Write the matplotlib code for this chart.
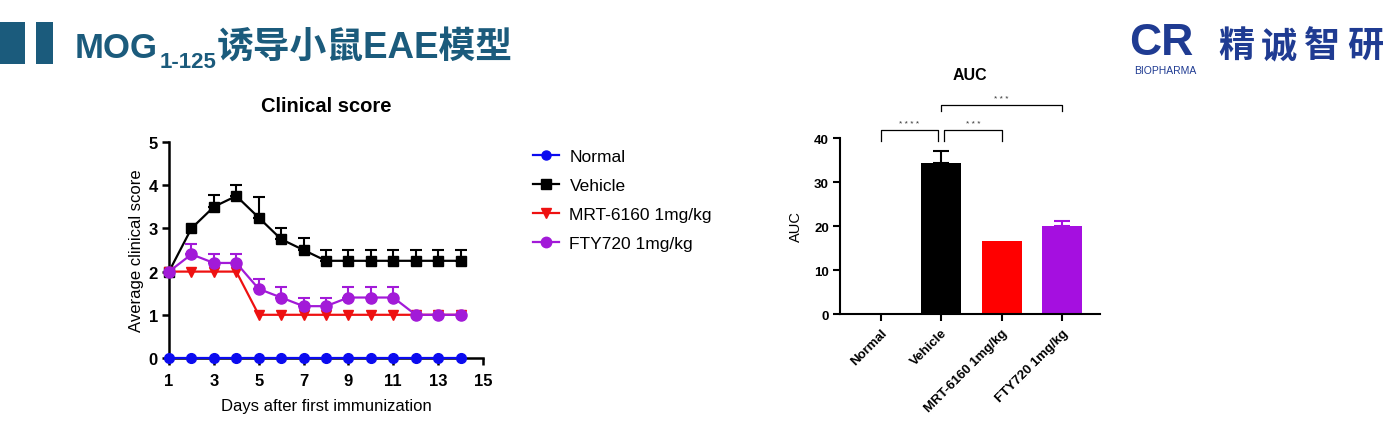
import numpy as np
import matplotlib
matplotlib.use("Agg")
import matplotlib.pyplot as plt
from matplotlib.lines import Line2D
from matplotlib.patches import Rectangle

# ---------------- data ----------------
days = [1, 2, 3, 4, 5, 6, 7, 8, 9, 10, 11, 12, 13, 14]
normal = [0, 0, 0, 0, 0, 0, 0, 0, 0, 0, 0, 0, 0, 0]
vehicle = [2, 3, 3.5, 3.75, 3.25, 2.75, 2.5, 2.25, 2.25, 2.25, 2.25, 2.25, 2.25, 2.25]
vehicle_err = [0, 0, 0.28, 0.25, 0.47, 0.25, 0.28, 0.25, 0.25, 0.25, 0.25, 0.25, 0.25, 0.25]
mrt = [2, 2, 2, 2, 1, 1, 1, 1, 1, 1, 1, 1, 1, 1]
mrt_err = [0, 0, 0, 0, 0, 0, 0, 0, 0, 0, 0, 0, 0, 0]
fty = [2, 2.4, 2.2, 2.2, 1.6, 1.4, 1.2, 1.2, 1.4, 1.4, 1.4, 1.0, 1.0, 1.0]
fty_err = [0, 0.24, 0.2, 0.2, 0.24, 0.24, 0.2, 0.2, 0.24, 0.24, 0.24, 0, 0, 0]

series_names = ["Normal", "Vehicle", "MRT-6160 1mg/kg", "FTY720 1mg/kg"]
auc_values = [0, 34.3, 16.6, 20.0]
auc_err = [0, 2.7, 0, 1.2]

xticks_left = [1, 3, 5, 7, 9, 11, 13, 15]
yticks_left = [0, 1, 2, 3, 4, 5]
yticks_right = [0, 10, 20, 30, 40]

# ---------------- style ----------------
W, H = 1397, 427
BLUE = "#0b0bef"
RED = "#ee1111"
PURPLE = "#a21ad8"
BLACK = "#000000"
TITLE_C = "#1b5b7c"
LOGO_C = "#1f3b92"
SANS = ["Liberation Sans", "DejaVu Sans"]
CJK = ["Liberation Sans", "Noto Sans CJK SC", "DejaVu Sans"]

plt.rcParams["font.family"] = SANS

fig = plt.figure(figsize=(W / 100, H / 100), dpi=100)
fig.patch.set_facecolor("white")


def fx(px):
    return px / W


def fy(py):
    return 1 - py / H


# ---------------- header ----------------
fig.patches.append(Rectangle((fx(0), fy(65)), fx(25), 42 / H, transform=fig.transFigure,
                             facecolor=TITLE_C, edgecolor="none"))
fig.patches.append(Rectangle((fx(36), fy(65)), fx(17), 42 / H, transform=fig.transFigure,
                             facecolor=TITLE_C, edgecolor="none"))

renderer = fig.canvas.get_renderer()
t1 = fig.text(fx(75), fy(58), "MOG", fontsize=25, fontweight="bold", color=TITLE_C,
              va="baseline", ha="left", family=SANS)
e1 = t1.get_window_extent(renderer)
t2 = fig.text(fx(e1.x1 + 2), fy(68), "1-125", fontsize=16, fontweight="bold", color=TITLE_C,
              va="baseline", ha="left", family=SANS)
e2 = t2.get_window_extent(renderer)
t3 = fig.text(fx(e2.x1), fy(58), "诱导小鼠EAE模型", fontsize=26.5, fontweight="bold",
              color=TITLE_C, va="baseline", ha="left", family=CJK)

# logo
fig.text(fx(1129), fy(55), "CR", fontsize=32, fontweight="bold", color=LOGO_C,
         va="baseline", ha="left", family=SANS)
fig.text(fx(1134), fy(74), "BIOPHARMA", fontsize=7.5, color=LOGO_C, va="baseline",
         ha="left", family=SANS)
for i, ch in enumerate("精诚智研"):
    fig.text(fx(1218 + i * 43), fy(57), ch, fontsize=26, fontweight="bold", color=LOGO_C,
             va="baseline", ha="left", family=["Noto Sans CJK SC", "DejaVu Sans"])

# ---------------- left chart ----------------
ax1 = fig.add_axes([fx(169), fy(359), (483 - 169) / W, (359 - 143) / H])
ax1.set_xlim(1, 15)
ax1.set_ylim(0, 5)
for s in ["top", "right"]:
    ax1.spines[s].set_visible(False)
for s in ["left", "bottom"]:
    ax1.spines[s].set_linewidth(1.8)
ax1.set_xticks(xticks_left)
ax1.set_yticks(yticks_left)
ax1.tick_params(axis="both", direction="out", length=5, width=1.8, labelsize=12, pad=3)
ax1.tick_params(axis="x", pad=6)
for lab in ax1.get_xticklabels() + ax1.get_yticklabels():
    lab.set_fontweight("bold")

d = np.array(days)
plot_specs = [
    (vehicle, vehicle_err, BLACK, "s", 7),
    (mrt, mrt_err, RED, "v", 7),
    (fty, fty_err, PURPLE, "o", 8),
    (normal, [0] * len(days), BLUE, "o", 7),
]
for vals, err, col, mk, ms in plot_specs:
    v = np.array(vals, dtype=float)
    e = np.array(err, dtype=float)
    m = e > 0
    if m.any():
        ax1.errorbar(d[m], v[m], yerr=[np.zeros(m.sum()), e[m]], fmt="none",
                     ecolor=col, elinewidth=1.5, capsize=4, capthick=1.5, zorder=2)
    ax1.plot(d, v, color=col, lw=1.6, marker=mk, markersize=ms, zorder=3, clip_on=False)

ax1.set_xlabel("Days after first immunization", fontsize=12, labelpad=7)
ax1.set_ylabel("Average clinical score", fontsize=12, labelpad=3)
fig.text(fx(326), fy(107), "Clinical score", fontsize=14.5, fontweight="bold",
         ha="center", va="center")

legend_handles = [
    Line2D([], [], color=BLUE, marker="o", markersize=6.5, lw=1.6),
    Line2D([], [], color=BLACK, marker="s", markersize=6.5, lw=1.6),
    Line2D([], [], color=RED, marker="v", markersize=6.5, lw=1.6),
    Line2D([], [], color=PURPLE, marker="o", markersize=7.5, lw=1.6),
]
fig.legend(legend_handles, series_names, loc="upper left",
           bbox_to_anchor=(fx(533), fy(150)), frameon=False, fontsize=12.5,
           handlelength=1.5, handletextpad=0.6, labelspacing=0.79,
           borderpad=0, borderaxespad=0)

# ---------------- right chart ----------------
ax2 = fig.add_axes([fx(840), fy(315), 260 / W, 176 / H])
xpos = np.arange(len(series_names))
bar_colors = ["#ffffff", BLACK, "#ff0000", "#a50fe0"]
ax2.bar(xpos, auc_values, width=0.66, color=bar_colors, zorder=2)
for i in range(len(xpos)):
    if auc_err[i] > 0:
        ax2.errorbar([xpos[i]], [auc_values[i]], yerr=[[0], [auc_err[i]]], fmt="none",
                     ecolor=bar_colors[i], elinewidth=1.5, capsize=6, capthick=1.5, zorder=3)
ax2.set_xlim(-0.68, 3.63)
ax2.set_ylim(0, 40)
for s in ["top", "right"]:
    ax2.spines[s].set_visible(False)
for s in ["left", "bottom"]:
    ax2.spines[s].set_linewidth(1.5)
ax2.set_yticks(yticks_right)
ax2.set_xticks(xpos)
ax2.set_xticklabels(series_names, rotation=45, ha="right", rotation_mode="anchor")
ax2.tick_params(axis="both", direction="out", length=5, width=1.5, labelsize=9.5, pad=3)
ax2.tick_params(axis="x", pad=4)
for lab in ax2.get_xticklabels() + ax2.get_yticklabels():
    lab.set_fontweight("bold")
ax2.set_ylabel("AUC", fontsize=10.5, labelpad=8)
fig.text(fx(970), fy(75), "AUC", fontsize=11.5, fontweight="bold", ha="center", va="center")


def bracket(a, b, y_top, y_leg, label):
    ax2.plot([a, a, b, b], [y_leg, y_top, y_top, y_leg], color="black", lw=0.9,
             clip_on=False, zorder=4)
    ax2.text((a + b) / 2, y_top + 0.6, label, fontsize=6, ha="center", va="bottom",
             color="#333333")


bracket(0.0, 0.94, 41.9, 39.4, "* * * *")
bracket(1.05, 2.0, 41.9, 39.4, "* * *")
bracket(1.0, 3.0, 47.5, 46.2, "* * *")

fig.savefig("out.png", dpi=100, facecolor="white")
